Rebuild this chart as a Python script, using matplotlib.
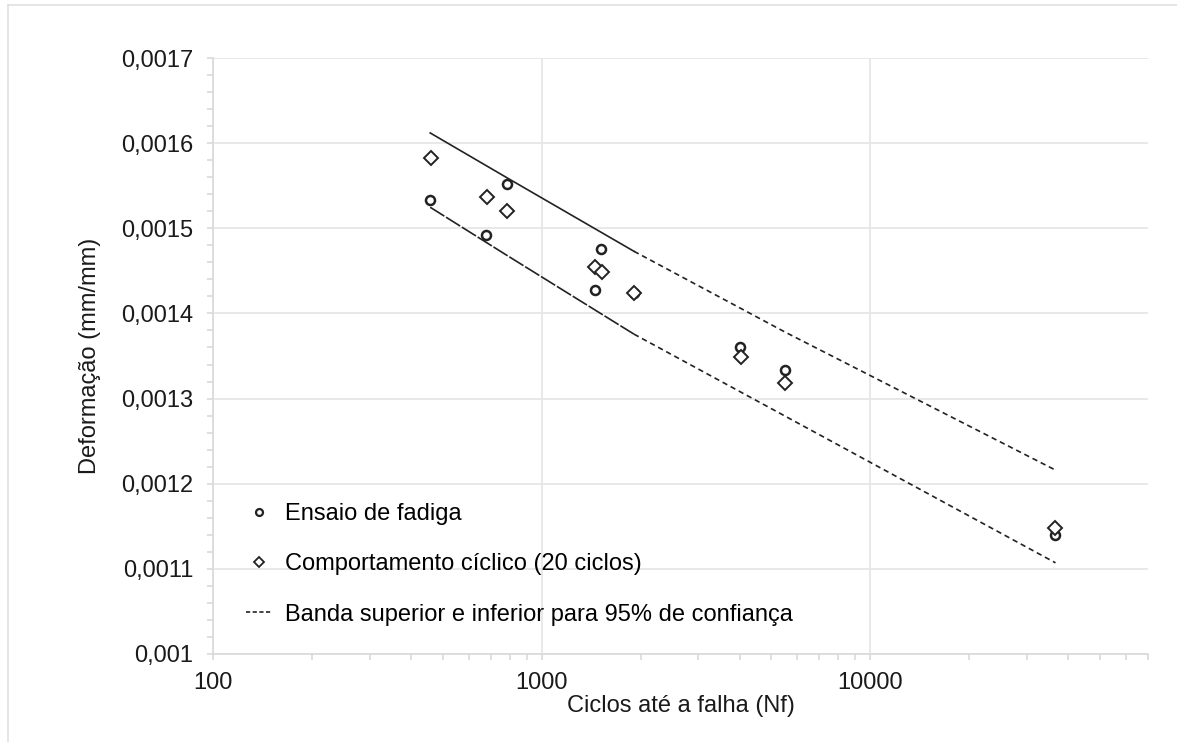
import matplotlib
matplotlib.use("Agg")
import matplotlib.pyplot as plt
import numpy as np
from matplotlib.lines import Line2D
from matplotlib.ticker import FuncFormatter, FixedLocator, NullFormatter

plt.rcParams['font.family'] = ['Liberation Sans', 'DejaVu Sans']

# Ensaio de fadiga (circulos)
fadiga_n = [458, 679, 787, 1452, 1513, 1909, 4020, 5510, 36500]
fadiga_def = [0.001533, 0.001492, 0.001552, 0.0014275, 0.001476, 0.0014245, 0.001361, 0.0013335, 0.0011395]

# Comportamento ciclico, 20 ciclos (losangos)
ciclico_n = [462, 681, 787, 1452, 1522, 1909, 4040, 5510, 36600]
ciclico_def = [0.001582, 0.001537, 0.00152, 0.0014545, 0.001449, 0.001424, 0.001349, 0.001318, 0.001148]

# bandas de 95% de confianca
banda_n = [458, 787, 1909, 5510, 36600]
banda_sup = [0.001612, 0.001559, 0.001473, 0.001378, 0.001216]
banda_inf = [0.0015247, 0.0014678, 0.0013757, 0.0012793, 0.0011071]

grey = '#d9d9d9'
ink = '#222222'
fs = 17

fig = plt.figure(figsize=(11.77, 7.42), dpi=100)
ax = fig.add_axes([0.181, 0.1186, 0.7944, 0.8032])

# trecho ate 1909 ciclos (solido / traco longo), depois tracejado
ax.plot(banda_n[:3], banda_sup[:3], color=ink, lw=1.2, zorder=3)
ax.plot(banda_n[:3], banda_inf[:3], color=ink, lw=1.2, dashes=(10, 1.2), zorder=3)
ax.plot(banda_n[2:], banda_sup[2:], color=ink, lw=1.2, dashes=(3.2, 2.3), zorder=3)
ax.plot(banda_n[2:], banda_inf[2:], color=ink, lw=1.2, dashes=(3.2, 2.3), zorder=3)

ax.plot(fadiga_n, fadiga_def, 'o', ms=6.5, mfc='white', mec=ink, mew=1.8, zorder=4)
ax.plot(ciclico_n, ciclico_def, 'D', ms=7, mfc='white', mec=ink, mew=1.4, zorder=4)

ax.set_xscale('log')
ax.set_xlim(100, 70000)
ax.set_ylim(0.001, 0.0017)

ax.xaxis.set_major_locator(FixedLocator([100, 1000, 10000]))
ax.xaxis.set_major_formatter(FuncFormatter(lambda v, p: '%d' % v))
minors = [m * 10 ** e for e in (2, 3, 4) for m in range(2, 10)]
ax.xaxis.set_minor_locator(FixedLocator([v for v in minors if v <= 70000]))
ax.xaxis.set_minor_formatter(NullFormatter())

ax.set_yticks(np.arange(0.001, 0.00171, 0.0001))
ax.set_yticks(np.arange(0.001, 0.00171, 0.00002), minor=True)
ax.yaxis.set_major_formatter(FuncFormatter(lambda v, p: ('%.4f' % v).rstrip('0').replace('.', ',')))

ax.grid(True, which='major', color='#e6e6e6', lw=1.3, zorder=0)
ax.set_axisbelow(True)
for s in ['top', 'right']:
    ax.spines[s].set_visible(False)
for s in ['left', 'bottom']:
    ax.spines[s].set_color(grey)
    ax.spines[s].set_linewidth(1.2)

ax.tick_params(which='both', direction='out', color=grey, length=4, width=1.2)
ax.tick_params(axis='x', which='major', pad=9, labelsize=fs, labelcolor='#1a1a1a')
ax.tick_params(axis='y', which='major', pad=10, labelsize=fs, labelcolor='#1a1a1a')

ax.set_xlabel('Ciclos até a falha (Nf)', fontsize=fs, color='#1a1a1a', labelpad=1)
ax.set_ylabel('Deformação (mm/mm)', fontsize=fs, color='#1a1a1a', labelpad=15)

handles = [
    Line2D([], [], ls='none', marker='o', ms=5, mfc='white', mec=ink, mew=1.6),
    Line2D([], [], ls='none', marker='D', ms=5, mfc='white', mec=ink, mew=1.3),
    Line2D([], [], color=ink, lw=1.2, dashes=(2.5, 1.5)),
]
labels = ['Ensaio de fadiga', 'Comportamento cíclico (20 ciclos)',
          'Banda superior e inferior para 95% de confiança']
ax.legend(handles, labels, loc='upper left', bbox_to_anchor=(0.013, 0.289), frameon=False,
          fontsize=fs, labelspacing=1.2, handlelength=1.1, handletextpad=0.55)

# moldura externa clara
fig.add_artist(Line2D([8 / 1177, 1], [1 - 5 / 742, 1 - 5 / 742], transform=fig.transFigure, color='#e0e0e0', lw=1.2))
fig.add_artist(Line2D([8 / 1177, 8 / 1177], [0, 1 - 5 / 742], transform=fig.transFigure, color='#e0e0e0', lw=1.2))

fig.savefig('out.png', dpi=100, facecolor='white')
